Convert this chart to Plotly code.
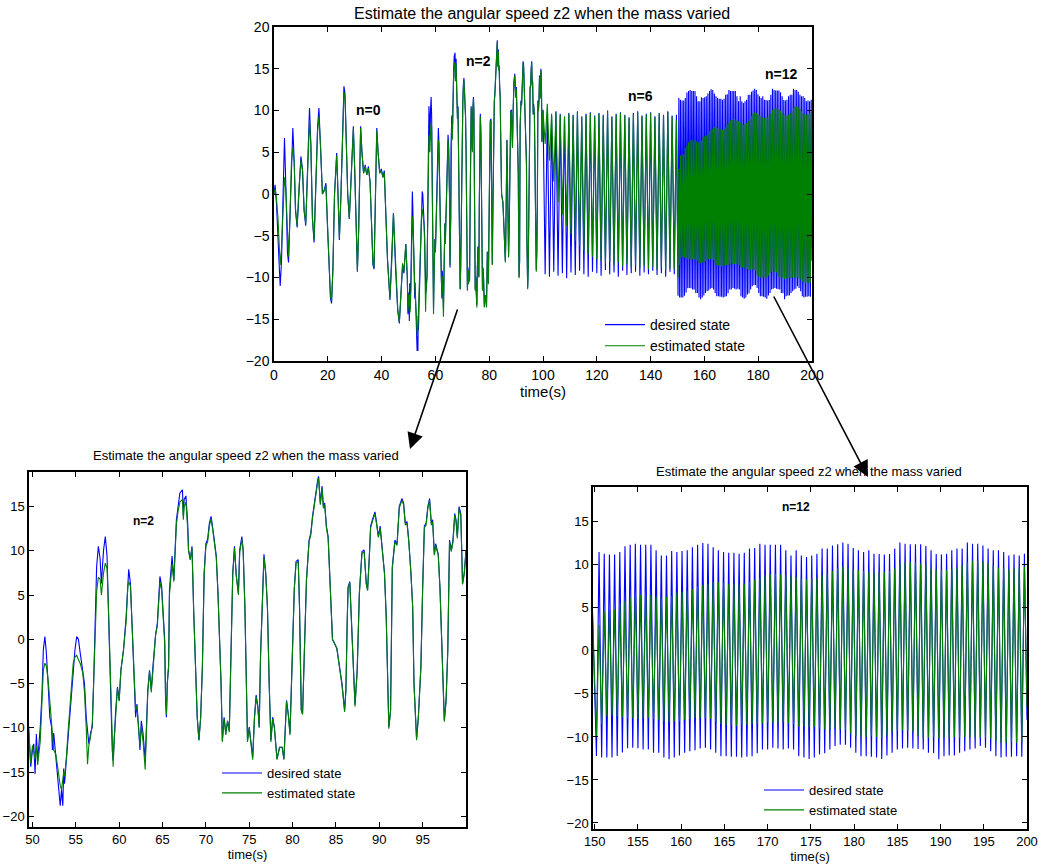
import plotly.graph_objects as go

# ---------------- data ----------------
# Segment A: 0-49 s (n=0)
tA = [0.0, 0.4, 0.9, 1.5, 2.0, 2.3, 2.8, 3.3, 3.9, 4.4,
      5.0, 5.4, 5.9, 6.5, 7.0, 7.5, 8.0, 8.6, 9.3, 10.0,
      10.6, 11.2, 11.8, 12.5, 13.2, 13.7, 14.3, 14.9, 15.5, 16.2,
      16.7, 17.3, 18.0, 18.7, 19.3, 19.9, 20.5, 21.0, 21.4, 21.9,
      22.5, 23.3, 23.8, 24.3, 24.9, 25.5, 26.0, 26.4, 26.9, 27.4,
      28.0, 28.8, 29.5, 30.0, 30.5, 31.0, 31.5, 32.2, 32.7, 33.3,
      33.9, 34.5, 35.1, 35.7, 36.2, 36.8, 37.2, 37.7, 38.2, 38.7,
      39.3, 39.9, 40.5, 41.0, 41.5, 42.2, 43.1, 43.8, 44.4, 45.2,
      46.0, 46.6, 47.2, 47.8, 48.3, 49.0]
blueA = [0.0, 1.1, -1.0, -4.5, -9.0, -11.0, -8.0, -1.0, 6.7, 1.0,
         -7.0, -8.2, -3.0, 5.0, 7.9, 4.0, -2.0, -4.0, 1.0, 4.5,
         3.0, -2.0, -3.8, 4.0, 10.3, 6.0, -3.0, -5.8, 2.0, 8.0,
         10.3, 6.0, 0.0, 0.5, 1.3, -4.0, -10.0, -12.5, -13.1, -9.0,
         0.0, 4.9, 0.0, -5.5, 0.0, 7.0, 12.9, 12.0, 5.0, 0.0,
         -3.0, 2.0, 8.1, 3.0, -5.0, -9.3, -4.0, 8.1, 5.0, 2.5,
         3.5, 2.3, 3.3, 1.5, -3.0, -8.5, -9.0, -2.0, 7.9, 5.0,
         2.5, 3.0, 2.0, 2.8, -1.5, -8.0, -12.7, -8.0, -2.3, -9.0,
         -14.0, -15.5, -12.0, -8.5, -9.5, -6.0]
greenA = [0.0, 0.6, -0.5, -3.0, -6.5, -8.5, -6.5, -1.5, 2.0, 0.5,
          -6.0, -7.5, -3.0, 4.0, 5.5, 3.8, -1.8, -3.8, 0.8, 4.0,
          2.8, -2.0, -3.5, 3.8, 8.8, 5.8, -3.0, -5.5, 2.0, 7.5,
          9.3, 5.8, 0.0, 0.4, 1.0, -4.0, -10.0, -12.3, -12.8, -9.0,
          0.0, 4.6, 0.0, -5.3, 0.0, 6.8, 12.2, 11.6, 5.0, 0.0,
          -3.0, 2.0, 7.8, 3.0, -5.0, -9.2, -4.0, 7.9, 5.0, 2.5,
          3.3, 2.3, 3.1, 1.5, -3.0, -8.4, -8.8, -2.0, 7.6, 5.0,
          2.5, 2.8, 2.0, 2.6, -1.5, -7.8, -12.5, -8.0, -2.3, -8.8,
          -13.8, -15.3, -12.0, -8.3, -9.3, -6.0]

# Segment B: 49.55-100 s (n=2)
tB = [49.55, 49.8, 50.0, 50.15, 50.3, 50.45, 50.6, 50.9, 51.1, 51.25,
      51.43, 51.6, 51.8, 52.0, 52.2, 52.3, 52.45, 52.7, 52.9, 53.2,
      53.35, 53.5, 53.6, 53.7, 53.9, 54.1, 54.3, 54.5, 54.7, 54.9,
      55.1, 55.3, 55.5, 55.8, 56.0, 56.2, 56.35, 56.5, 56.7, 56.9,
      57.05, 57.2, 57.4, 57.6, 57.8, 57.95, 58.2, 58.4, 58.6, 58.75,
      58.85, 58.96, 59.1, 59.2, 59.3, 59.45, 59.6, 59.8, 60.0, 60.2,
      60.5, 60.8, 61.0, 61.1, 61.3, 61.45, 61.6, 61.75, 61.9, 62.05,
      62.2, 62.4, 62.55, 62.75, 63.0, 63.15, 63.3, 63.5, 63.7, 63.9,
      64.2, 64.4, 64.6, 64.7, 64.9, 65.1, 65.25, 65.35, 65.45, 65.55,
      65.7, 65.8, 66.0, 66.1, 66.3, 66.45, 66.6, 66.8, 67.0, 67.3,
      67.4, 67.5, 67.7, 67.9, 68.0, 68.2, 68.4, 68.6, 68.8, 69.0,
      69.2, 69.4, 69.6, 69.8, 70.0, 70.2, 70.4, 70.6, 70.8, 71.0,
      71.2, 71.4, 71.6, 71.75, 71.9, 72.1, 72.3, 72.5, 72.7, 72.9,
      73.1, 73.3, 73.5, 73.75, 73.9, 74.15, 74.3, 74.5, 74.7, 74.8,
      75.0, 75.2, 75.4, 75.6, 75.8, 76.0, 76.15, 76.3, 76.5, 76.7,
      76.9, 77.1, 77.3, 77.5, 77.7, 77.9, 78.2, 78.5, 78.8, 79.0,
      79.3, 79.5, 79.7, 79.95, 80.2, 80.4, 80.65, 80.8, 81.0, 81.15,
      81.4, 81.6, 81.9, 82.1, 82.3, 82.5, 82.7, 82.9, 83.0, 83.2,
      83.4, 83.55, 83.7, 83.9, 84.1, 84.25, 84.4, 84.6, 85.1, 85.7,
      86.0, 86.15, 86.3, 86.4, 86.6, 86.75, 87.0, 87.2, 87.45, 87.7,
      88.0, 88.25, 88.5, 88.65, 88.85, 89.0, 89.2, 89.5, 89.7, 89.9,
      90.1, 90.3, 90.6, 90.8, 91.0, 91.1, 91.3, 91.5, 91.8, 92.05,
      92.3, 92.6, 92.8, 93.0, 93.2, 93.4, 93.65, 93.85, 94.0, 94.3,
      94.5, 94.8, 95.0, 95.2, 95.4, 95.6, 95.8, 96.0, 96.15, 96.35,
      96.5, 96.8, 97.0, 97.2, 97.4, 97.5, 97.7, 97.9, 98.1, 98.3,
      98.5, 98.7, 98.85, 99.0, 99.2, 99.4, 99.6, 99.8, 100.0]
blueB = [-9.9, -14.4, -12.5, -11.8, -15.2, -10.7, -13.7, -9.9, -6.1, -1.2,
         0.3, -1.5, -5.0, -8.8, -9.9, -12.5, -10.6, -13.7, -15.5, -18.8,
         -17.0, -18.8, -14.6, -16.3, -13.7, -11.0, -8.0, -6.1, -3.5, -1.2,
         0.3, 0.0, -1.5, -3.5, -5.0, -8.8, -10.6, -11.8, -10.6, -9.9,
         -5.0, 0.7, 8.2, 10.5, 9.1, 6.3, 10.1, 11.6, 9.4, 3.7,
         0.0, -5.0, -9.9, -12.5, -13.7, -10.6, -8.0, -5.4, -6.9, -3.5,
         -1.2, 2.5, 7.5, 7.9, 6.3, 2.9, -0.8, -5.0, -8.8, -7.3,
         -9.9, -12.5, -9.2, -10.6, -13.7, -10.3, -5.7, -3.5, -5.7, -3.0,
         0.5, 1.8, 6.3, 7.1, 6.0, 2.9, 0.0, -6.9, -8.8, -5.0,
         -3.1, 5.6, 8.6, 9.4, 6.7, 11.0, 13.5, 15.0, 16.5, 16.9,
         13.9, 15.8, 16.2, 13.1, 10.1, 9.0, 10.5, 3.0, -4.0, -8.8,
         -11.4, -8.8, -3.0, 7.5, 10.8, 11.3, 13.1, 13.9, 12.5, 10.8,
         9.4, 5.2, 0.0, -5.0, -11.4, -8.8, -10.6, -9.2, -10.3, -2.0,
         7.5, 10.5, 7.3, 5.2, 10.1, 11.6, 10.1, 3.7, -5.7, -11.4,
         -9.9, -11.8, -13.3, -8.8, -6.3, -7.6, -9.9, -2.0, 4.4, 9.6,
         7.5, 3.7, -5.0, -11.4, -8.8, -9.9, -13.5, -12.2, -12.2, -13.5,
         -6.9, -8.4, -10.6, -2.0, 5.8, 8.8, 9.0, 3.7, -8.0, -8.4,
         -1.0, 6.7, 11.2, 12.0, 13.9, 15.4, 16.5, 18.0, 18.4, 15.4,
         17.3, 15.0, 15.4, 12.8, 11.6, 7.5, 4.4, 0.0, -1.0, -5.0,
         -8.0, -5.7, 2.0, 5.9, 6.5, 3.0, -1.9, -7.4, -3.5, 5.2,
         9.9, 10.1, 6.3, 5.6, 9.4, 12.8, 13.5, 14.4, 13.1, 11.6,
         12.8, 10.5, 7.5, 2.5, -6.9, -9.9, -8.0, 8.2, 11.2, 10.8,
         15.0, 15.9, 15.4, 13.1, 13.3, 11.2, 7.5, 3.7, -5.0, -11.2,
         -8.8, -3.1, 5.8, 12.8, 13.1, 15.0, 15.9, 13.1, 13.5, 9.6,
         10.8, 9.6, 5.8, 0.0, -6.9, -9.1, -6.9, -1.2, 11.2, 10.1,
         11.2, 14.2, 13.5, 11.6, 15.0, 14.2, 6.3, 7.5, 10.1]
greenB = [-9.9, -14.0, -12.0, -13.0, -13.5, -12.0, -14.2, -11.5, -7.5, -3.5,
          -2.7, -3.0, -4.5, -6.9, -9.5, -11.0, -12.5, -13.0, -14.5, -16.5,
          -17.0, -16.0, -15.0, -15.5, -13.5, -10.5, -7.5, -5.0, -2.7, -2.0,
          -1.8, -2.3, -2.7, -3.8, -6.0, -10.0, -14.1, -12.0, -11.0, -9.5,
          -5.5, -1.0, 5.4, 7.0, 6.8, 5.0, 7.5, 8.6, 8.0, 4.0,
          0.5, -4.5, -10.0, -13.0, -14.4, -11.0, -8.5, -5.5, -7.0, -3.5,
          -1.2, 2.0, 6.0, 6.5, 6.0, 2.5, -1.0, -4.5, -8.0, -7.5,
          -10.0, -12.0, -9.8, -11.5, -14.7, -11.0, -6.0, -3.6, -6.0, -3.5,
          0.5, 1.5, 5.5, 6.5, 5.5, 2.5, -0.5, -6.5, -8.5, -5.0,
          -3.0, 5.0, 7.5, 8.5, 6.5, 10.5, 13.0, 14.5, 15.5, 15.8,
          13.5, 15.0, 15.5, 12.5, 10.0, 9.0, 10.3, 3.0, -4.0, -8.8,
          -11.4, -8.8, -3.0, 7.3, 10.5, 11.0, 12.8, 13.6, 12.3, 10.6,
          9.2, 5.0, 0.0, -5.0, -11.6, -9.0, -10.8, -9.2, -10.5, -2.0,
          7.3, 10.3, 7.2, 5.0, 9.8, 11.3, 10.0, 3.5, -5.7, -11.6,
          -10.0, -12.0, -13.6, -9.0, -6.5, -7.8, -10.0, -2.0, 4.3, 9.3,
          7.4, 3.6, -5.0, -11.6, -9.0, -10.0, -13.6, -12.2, -12.2, -13.6,
          -7.0, -8.5, -10.8, -2.0, 5.7, 8.6, 8.8, 3.6, -8.0, -8.5,
          -1.0, 6.6, 11.0, 11.8, 13.7, 15.2, 16.3, 17.8, 18.2, 15.2,
          17.1, 14.8, 15.2, 12.6, 11.4, 7.4, 4.3, 0.0, -1.0, -5.2,
          -8.2, -5.8, 2.0, 5.8, 6.4, 3.0, -2.0, -7.6, -3.6, 5.1,
          9.7, 9.9, 6.2, 5.5, 9.2, 12.6, 13.3, 14.2, 12.9, 11.5,
          12.6, 10.4, 7.4, 2.5, -7.0, -10.1, -8.1, 8.0, 11.0, 10.6,
          14.8, 15.7, 15.2, 12.9, 13.1, 11.0, 7.4, 3.6, -5.0, -11.4,
          -9.0, -3.1, 5.7, 12.6, 12.9, 14.8, 15.7, 12.9, 13.3, 9.5,
          10.6, 9.5, 5.7, 0.0, -7.0, -9.3, -7.0, -1.2, 11.0, 9.9,
          11.0, 14.0, 13.3, 11.4, 14.8, 14.0, 6.2, 7.4, 10.0]

# Segment C: 100-150 s (n=6), troughs and peaks of the oscillation
tC_trough = [100.8, 102.4, 104.0, 105.6, 107.2, 108.8, 110.4, 112.0, 113.6, 115.2,
             116.8, 118.4, 120.0, 121.6, 123.2, 124.8, 126.4, 128.0, 129.6, 131.2,
             132.8, 134.4, 136.0, 137.6, 139.2, 140.8, 142.4, 144.0, 145.6, 147.2,
             148.8]
tC_peak = [101.6, 103.2, 104.8, 106.4, 108.0, 109.6, 111.2, 112.8, 114.4, 116.0,
           117.6, 119.2, 120.8, 122.4, 124.0, 125.6, 127.2, 128.8, 130.4, 132.0,
           133.6, 135.2, 136.8, 138.4, 140.0, 141.6, 143.2, 144.8, 146.4, 148.0,
           149.6]
blueC_trough = [-9.6, -9.9, -9.3, -9.8, -9.5, -10.1, -9.4, -9.7, -9.2, -9.6,
                -9.9, -9.3, -9.5, -9.8, -9.1, -9.6, -9.4, -9.9, -9.2, -9.7,
                -9.5, -9.3, -9.8, -9.4, -9.6, -9.2, -9.7, -9.5, -9.9, -9.3,
                -9.6]
blueC_peak = [9.8, 9.4, 9.9, 9.6, 9.2, 9.7, 9.5, 9.9, 9.3, 9.6,
              9.8, 9.4, 9.7, 9.5, 10.0, 9.3, 9.6, 9.8, 9.5, 9.2,
              9.7, 9.9, 9.4, 9.6, 9.8, 9.3, 9.7, 9.5, 9.9, 9.4,
              9.5]
greenC_trough = [6.0, 4.0, 1.5, -1.0, -2.5, -3.8, -4.8, -5.6, -6.2, -6.8,
                 -7.2, -7.5, -7.8, -8.0, -8.3, -8.1, -8.5, -8.2, -8.7, -8.4,
                 -8.8, -8.5, -8.9, -8.6, -9.0, -8.7, -9.1, -8.8, -9.2, -8.9,
                 -9.0]
greenC_peak = [10.8, 9.6, 9.8, 9.5, 9.3, 9.6, 9.4, 9.8, 9.2, 9.5,
               9.7, 9.3, 9.6, 9.4, 9.9, 9.2, 9.5, 9.7, 9.4, 9.1,
               9.6, 9.8, 9.3, 9.5, 9.7, 9.2, 9.6, 9.4, 9.8, 9.3,
               8.9]

# Segment D: 150-200 s (n=12)
tD_trough = [150.2, 150.8, 151.4, 152.0, 152.6, 153.2, 153.8, 154.4, 155.0, 155.6,
             156.2, 156.8, 157.4, 158.0, 158.6, 159.2, 159.8, 160.4, 161.0, 161.6,
             162.2, 162.8, 163.4, 164.0, 164.6, 165.2, 165.8, 166.4, 167.0, 167.6,
             168.2, 168.8, 169.4, 170.0, 170.6, 171.2, 171.8, 172.4, 173.0, 173.6,
             174.2, 174.8, 175.4, 176.0, 176.6, 177.2, 177.8, 178.4, 179.0, 179.6,
             180.2, 180.8, 181.4, 182.0, 182.6, 183.2, 183.8, 184.4, 185.0, 185.6,
             186.2, 186.8, 187.4, 188.0, 188.6, 189.2, 189.8, 190.4, 191.0, 191.6,
             192.2, 192.8, 193.4, 194.0, 194.6, 195.2, 195.8, 196.4, 197.0, 197.6,
             198.2, 198.8, 199.4, 200.0]
tD_peak = [150.5, 151.1, 151.7, 152.3, 152.9, 153.5, 154.1, 154.7, 155.3, 155.9,
           156.5, 157.1, 157.7, 158.3, 158.9, 159.5, 160.1, 160.7, 161.3, 161.9,
           162.5, 163.1, 163.7, 164.3, 164.9, 165.5, 166.1, 166.7, 167.3, 167.9,
           168.5, 169.1, 169.7, 170.3, 170.9, 171.5, 172.1, 172.7, 173.3, 173.9,
           174.5, 175.1, 175.7, 176.3, 176.9, 177.5, 178.1, 178.7, 179.3, 179.9,
           180.5, 181.1, 181.7, 182.3, 182.9, 183.5, 184.1, 184.7, 185.3, 185.9,
           186.5, 187.1, 187.7, 188.3, 188.9, 189.5, 190.1, 190.7, 191.3, 191.9,
           192.5, 193.1, 193.7, 194.3, 194.9, 195.5, 196.1, 196.7, 197.3, 197.9,
           198.5, 199.1, 199.7]
blueD_trough = [-12.2, -12.4, -12.4, -12.4, -12.2, -11.8, -11.3, -11.25, -11.3, -11.45,
                -11.45, -11.85, -11.85, -12.4, -12.6, -12.4, -12.15, -11.85, -11.65, -11.55,
                -11.35, -11.25, -11.45, -11.85, -12.25, -12.25, -12.3, -12.3, -12.4, -12.3,
                -12.25, -11.9, -11.45, -11.45, -11.25, -11.35, -11.45, -11.35, -11.45, -12.25,
                -12.4, -12.55, -12.4, -12.05, -11.9, -11.45, -11.05, -10.9, -10.9, -11.25,
                -11.85, -12.25, -12.25, -12.3, -12.4, -12.55, -12.15, -11.85, -11.45, -11.35,
                -11.25, -11.35, -11.4, -11.45, -11.85, -11.9, -12.6, -12.25, -12.15, -12.15,
                -11.85, -11.65, -11.45, -11.35, -11.05, -11.25, -11.65, -12.25, -12.4, -12.3,
                -12.3, -12.25, -12.3, -8.0]
blueD_peak = [11.5, 11.3, 11.2, 11.2, 11.5, 12.15, 12.35, 12.45, 12.35, 12.35,
              12.35, 11.7, 11.1, 11.1, 11.6, 11.5, 11.6, 11.7, 12.05, 12.35,
              12.55, 12.45, 12.05, 11.7, 11.5, 11.4, 11.4, 11.3, 11.4, 11.9,
              11.95, 12.45, 12.35, 12.35, 12.35, 12.35, 11.7, 11.1, 11.7, 11.1,
              10.9, 11.1, 11.3, 11.9, 11.9, 12.25, 12.4, 12.6, 12.45, 11.95,
              11.7, 11.5, 11.7, 11.3, 11.25, 11.2, 11.25, 11.9, 12.6, 12.45,
              12.4, 12.4, 12.4, 12.2, 11.7, 11.25, 11.2, 11.3, 11.7, 11.9,
              11.9, 12.6, 12.45, 12.45, 12.25, 11.9, 11.7, 11.7, 11.5, 11.1,
              11.2, 11.1, 11.3]
greenD_trough = [-9.9, -8.5, -7.6, -7.5, -7.6, -7.7, -7.8, -7.8, -7.9, -7.8,
                 -7.8, -7.9, -8.0, -8.2, -8.3, -8.2, -8.2, -8.0, -7.9, -7.8,
                 -7.8, -7.8, -7.9, -8.2, -8.5, -8.6, -8.6, -8.7, -8.6, -8.6,
                 -8.5, -8.5, -8.4, -8.3, -8.4, -8.4, -8.3, -8.4, -8.5, -8.8,
                 -8.8, -8.9, -8.8, -9.0, -9.1, -9.1, -9.0, -9.1, -9.2, -9.6,
                 -9.9, -10.0, -10.0, -9.9, -10.0, -10.1, -9.8, -9.4, -9.3, -9.2,
                 -9.3, -9.4, -9.9, -10.1, -10.1, -10.0, -10.2, -10.1, -10.1, -10.0,
                 -10.1, -10.0, -10.0, -10.1, -10.0, -10.1, -10.2, -10.5, -10.7, -10.7,
                 -10.6, -10.7, -10.6, -6.5]
greenD_peak = [3.0, 4.6, 4.7, 4.8, 5.5, 5.8, 6.2, 6.4, 6.5, 6.4,
               6.5, 6.3, 6.2, 6.3, 6.4, 6.8, 6.9, 7.0, 7.2, 7.5,
               7.7, 7.8, 8.0, 8.0, 7.9, 7.8, 7.8, 7.7, 7.8, 8.0,
               8.3, 8.5, 8.8, 8.9, 9.0, 8.9, 8.8, 8.7, 8.6, 8.4,
               8.3, 8.4, 8.5, 8.8, 9.0, 9.3, 9.6, 9.8, 9.7, 9.5,
               9.4, 9.3, 9.2, 9.1, 9.2, 9.2, 9.3, 9.6, 10.1, 10.3,
               10.3, 10.3, 10.2, 10.0, 9.7, 9.5, 9.4, 9.4, 9.5, 9.7,
               9.9, 10.3, 10.5, 10.5, 10.4, 10.2, 9.9, 9.7, 9.6, 9.5,
               9.6, 9.7, 9.8]

# axis ticks
top_xticks = [0, 20, 40, 60, 80, 100, 120, 140, 160, 180, 200]
top_yticks = [-20, -15, -10, -5, 0, 5, 10, 15, 20]
bl_xticks = [50, 55, 60, 65, 70, 75, 80, 85, 90, 95]
br_xticks = [150, 155, 160, 165, 170, 175, 180, 185, 190, 195, 200]
low_yticks = [-20, -15, -10, -5, 0, 5, 10, 15]

title_text = "Estimate the angular speed z2 when the mass varied"
series_names = ["desired state", "estimated state"]


# ---------------- assemble the series ----------------
def interleave(first_t, first_v, second_t, second_v):
    tt, vv = [], []
    for i in range(max(len(first_t), len(second_t))):
        if i < len(first_t):
            tt.append(first_t[i]); vv.append(first_v[i])
        if i < len(second_t):
            tt.append(second_t[i]); vv.append(second_v[i])
    return tt, vv


tC, blueC = interleave(tC_trough, blueC_trough, tC_peak, blueC_peak)
_, greenC = interleave(tC_trough, greenC_trough, tC_peak, greenC_peak)
tD, blueD = interleave(tD_trough, blueD_trough, tD_peak, blueD_peak)
_, greenD = interleave(tD_trough, greenD_trough, tD_peak, greenD_peak)

t_all = tA + tB + tC + tD
blue_all = blueA + blueB + blueC + blueD
green_all = greenA + greenB + greenC + greenD

FONT = "Liberation Sans, Arial, Helvetica, sans-serif"
W, H = 1039, 867
BLUE = "#0000ff"
GREEN = "#008000"

fig = go.Figure()
panels = [("x", "y", "legend"), ("x2", "y2", "legend2"), ("x3", "y3", "legend3")]
for xa, ya, lg in panels:
    fig.add_trace(go.Scatter(x=t_all, y=blue_all, mode="lines", name=series_names[0],
                             line=dict(color=BLUE, width=1.1), xaxis=xa, yaxis=ya, legend=lg))
    fig.add_trace(go.Scatter(x=t_all, y=green_all, mode="lines", name=series_names[1],
                             line=dict(color=GREEN, width=1.1), xaxis=xa, yaxis=ya, legend=lg))


def px_x(p):
    return p / W


def px_y(p):
    return 1 - p / H


def axis_style(size):
    return dict(showline=True, linecolor="black", linewidth=1.5, mirror="ticks",
                ticks="inside", ticklen=5, tickcolor="black", showgrid=False,
                zeroline=False, automargin=False,
                tickfont=dict(family=FONT, size=size, color="black"))


fig.update_layout(
    width=W, height=H, autosize=False,
    margin=dict(l=0, r=0, t=0, b=0, autoexpand=False),
    paper_bgcolor="white", plot_bgcolor="white",
    font=dict(family=FONT, color="black"),
    xaxis=dict(domain=[px_x(274), px_x(812)], range=[0, 200], tickvals=top_xticks,
               anchor="y", title=dict(text="time(s)", font=dict(size=15), standoff=2),
               **axis_style(14)),
    yaxis=dict(domain=[px_y(361), px_y(27)], range=[-20, 20], tickvals=top_yticks,
               anchor="x", **axis_style(14)),
    xaxis2=dict(domain=[px_x(29), px_x(466)], range=[49.6, 100], tickvals=bl_xticks,
                anchor="y2", title=dict(text="time(s)", font=dict(size=13), standoff=3),
                **axis_style(13)),
    yaxis2=dict(domain=[px_y(827), px_y(472)], range=[-21.2, 18.9], tickvals=low_yticks,
                anchor="x2", **axis_style(13)),
    xaxis3=dict(domain=[px_x(593), px_x(1027)], range=[149.8, 200], tickvals=br_xticks,
                anchor="y3", title=dict(text="time(s)", font=dict(size=13), standoff=3),
                **axis_style(13)),
    yaxis3=dict(domain=[px_y(829), px_y(487)], range=[-20.7, 19.05], tickvals=low_yticks,
                anchor="x3", **axis_style(13)),
    legend=dict(x=px_x(600), y=px_y(309), xanchor="left", yanchor="top",
                bgcolor="rgba(0,0,0,0)", borderwidth=0, itemwidth=40, tracegroupgap=0,
                font=dict(family=FONT, size=14, color="black")),
    legend2=dict(x=px_x(217), y=px_y(758), xanchor="left", yanchor="top",
                 bgcolor="rgba(0,0,0,0)", borderwidth=0, itemwidth=40, tracegroupgap=0,
                 font=dict(family=FONT, size=13, color="black")),
    legend3=dict(x=px_x(759), y=px_y(775), xanchor="left", yanchor="top",
                 bgcolor="rgba(0,0,0,0)", borderwidth=0, itemwidth=40, tracegroupgap=0,
                 font=dict(family=FONT, size=13, color="black")),
    showlegend=True,
)

annotations = [
    # panel titles
    dict(text=title_text, x=px_x(542), y=px_y(13), xref="paper", yref="paper",
         showarrow=False, font=dict(size=16, family=FONT), xanchor="center", yanchor="middle"),
    dict(text=title_text, x=px_x(246), y=px_y(455), xref="paper", yref="paper",
         showarrow=False, font=dict(size=13, family=FONT), xanchor="center", yanchor="middle"),
    dict(text=title_text, x=px_x(809), y=px_y(471), xref="paper", yref="paper",
         showarrow=False, font=dict(size=13, family=FONT), xanchor="center", yanchor="middle"),
    # n labels
    dict(text="<b>n=0</b>", x=35.3, y=10.1, xref="x", yref="y", showarrow=False,
         font=dict(size=14, family=FONT)),
    dict(text="<b>n=2</b>", x=76.2, y=15.9, xref="x", yref="y", showarrow=False,
         font=dict(size=14, family=FONT)),
    dict(text="<b>n=6</b>", x=136.4, y=11.7, xref="x", yref="y", showarrow=False,
         font=dict(size=14, family=FONT)),
    dict(text="<b>n=12</b>", x=188.8, y=14.4, xref="x", yref="y", showarrow=False,
         font=dict(size=14, family=FONT)),
    dict(text="<b>n=2</b>", x=62.8, y=13.4, xref="x2", yref="y2", showarrow=False,
         font=dict(size=12, family=FONT)),
    dict(text="<b>n=12</b>", x=173.3, y=16.7, xref="x3", yref="y3", showarrow=False,
         font=dict(size=12, family=FONT)),
    # zoom arrows
    dict(text="", x=px_x(410), y=px_y(449), xref="paper", yref="paper",
         ax=48, ay=-141, axref="pixel", ayref="pixel", showarrow=True,
         arrowhead=2, arrowsize=2, arrowwidth=1.6, arrowcolor="black", standoff=0),
    dict(text="", x=px_x(868), y=px_y(477), xref="paper", yref="paper",
         ax=-95, ay=-182, axref="pixel", ayref="pixel", showarrow=True,
         arrowhead=2, arrowsize=2, arrowwidth=1.6, arrowcolor="black", standoff=0),
]
fig.update_layout(annotations=annotations)

fig.write_html("out.html")
